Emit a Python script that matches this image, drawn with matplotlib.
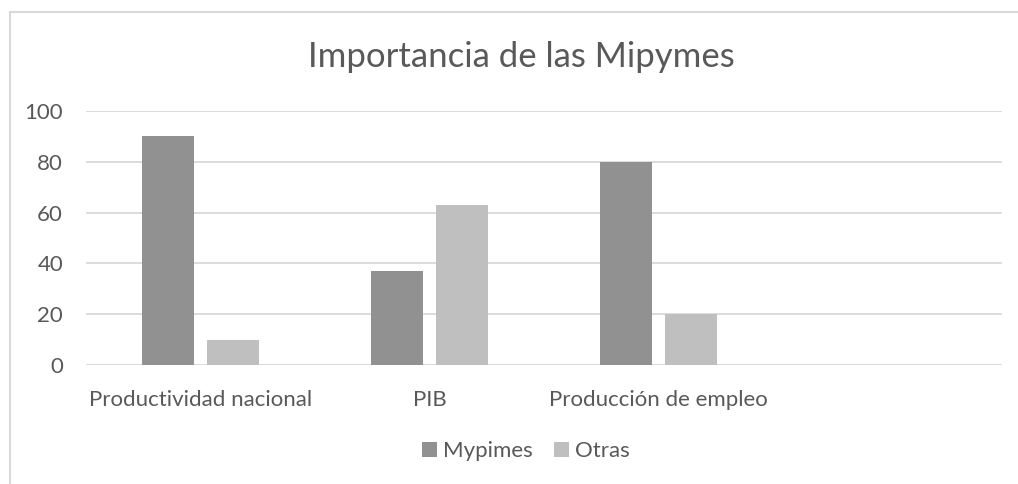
import numpy as np
import matplotlib
matplotlib.use("Agg")
import matplotlib.pyplot as plt
from matplotlib.patches import Patch, Rectangle

categorias = ["Productividad nacional", "PIB", "Producción de empleo", ""]
mypimes = [90, 37, 80, 0]
otras = [10, 63, 20, 0]
series = ["Mypimes", "Otras"]
yticks = [0, 20, 40, 60, 80, 100]

c_text = "#595959"
c_grid = "#d9d9d9"
c_my = "#919191"
c_ot = "#bfbfbf"

plt.rcParams["font.family"] = ["Lato", "DejaVu Sans"]

fig = plt.figure(figsize=(10.18, 4.84), dpi=100)
ax = fig.add_axes([86/1018, 1-365/484, 916/1018, 254/484])

x = np.arange(len(categorias))
w = 0.227
off = 0.142
# la 4a categoria esta vacia, no se dibuja
n = 3
ax.bar(x[:n]-off, mypimes[:n], w, color=c_my, zorder=3)
ax.bar(x[:n]+off, otras[:n], w, color=c_ot, zorder=3)

ax.set_xlim(-0.5, 3.5)
ax.set_ylim(0, 100)
ax.set_yticks(yticks)
ax.set_xticks(x)
ax.set_xticklabels(categorias)
for v in yticks:
    ax.axhline(v, color=c_grid, lw=1.3, zorder=1)
for s in ax.spines.values():
    s.set_visible(False)
ax.tick_params(axis="both", length=0, colors=c_text, labelsize=16)
ax.tick_params(axis="y", pad=16.5)
ax.tick_params(axis="x", pad=18)

fig.text(521/1018, 1-57/484, "Importancia de las Mipymes", ha="center", va="center",
         fontsize=25, color=c_text)

handles = [Patch(facecolor=c_my, edgecolor="none"), Patch(facecolor=c_ot, edgecolor="none")]
leg = fig.legend(handles, series, loc="center", bbox_to_anchor=(526/1018, 1-451/484),
                 ncol=2, frameon=False, fontsize=16, handlelength=0.65, handleheight=0.65,
                 handletextpad=0.3, columnspacing=0.95, labelcolor=c_text)

# borde del area del grafico (recortado a la derecha y abajo)
fig.add_artist(Rectangle((10/1018, -0.1), 1.1, 1.1-12/484, transform=fig.transFigure,
                         fill=False, edgecolor=c_grid, lw=1.5))

fig.savefig("out.png", dpi=100)
